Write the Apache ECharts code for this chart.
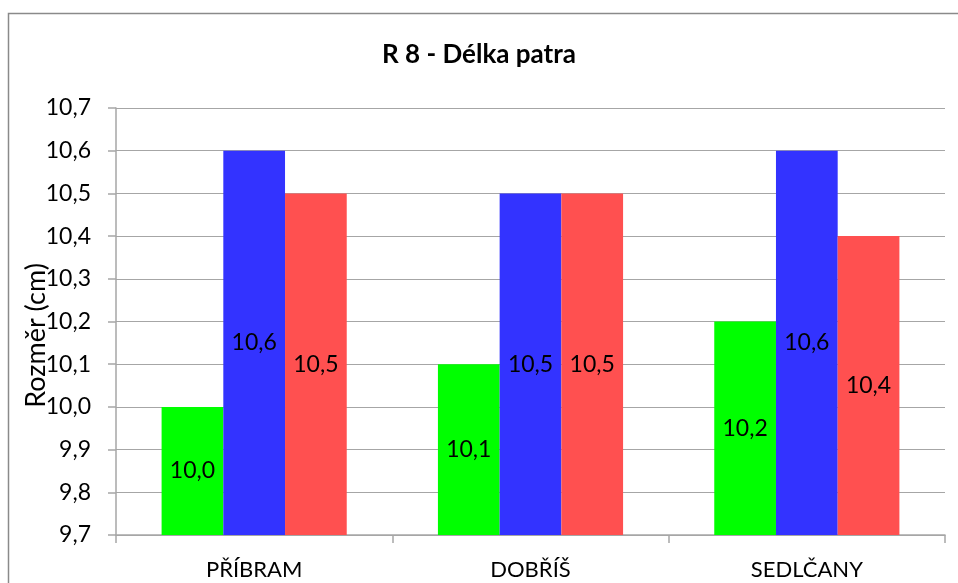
<!DOCTYPE html>
<html>
<head>
<meta charset="utf-8">
<script src="https://cdn.jsdelivr.net/npm/echarts@6/dist/echarts.min.js"></script>
<style>
  html, body { margin: 0; padding: 0; background: #fff; }
  #chart { width: 958px; height: 583px; }
</style>
</head>
<body>
<div id="chart"></div>
<script>
// Palate length (R 8) per town, three groups
const categories = ['PŘÍBRAM', 'DOBŘÍŠ', 'SEDLČANY'];
const seriesGreen = [10.0, 10.1, 10.2];
const seriesBlue = [10.6, 10.5, 10.6];
const seriesRed = [10.5, 10.5, 10.4];
const yMin = 9.7;
const yMax = 10.7;
const yStep = 0.1;

const FONT = 'Lato, "Open Sans", sans-serif';
const fmt = v => Number(v).toFixed(1).replace('.', ',');

function barSeries(data, color) {
  return {
    type: 'bar',
    data: data,
    barGap: '0%',
    barCategoryGap: '33%',
    itemStyle: { color: color },
    label: {
      show: true,
      position: 'inside',
      color: '#000',
      fontFamily: FONT,
      fontSize: 23,
      formatter: p => fmt(p.value)
    }
  };
}

const chart = echarts.init(document.getElementById('chart'), null, { renderer: 'canvas' });
chart.setOption({
  animation: false,
  backgroundColor: '#fff',
  title: {
    text: 'R 8 - Délka patra',
    left: 'center',
    top: 37,
    textStyle: { fontFamily: FONT, fontSize: 26, fontWeight: 'bold', color: '#000' }
  },
  graphic: [{
    type: 'rect',
    shape: { x: 8.5, y: 13.5, width: 970, height: 600 },
    style: { fill: 'none', stroke: '#8a8a8a', lineWidth: 1.5 },
    silent: true
  }],
  grid: { left: 116, right: 13, top: 108, bottom: 48, containLabel: false },
  xAxis: {
    type: 'category',
    data: categories,
    axisLine: { lineStyle: { color: '#a6a6a6', width: 1.5 } },
    axisTick: { show: true, length: 8, lineStyle: { color: '#a6a6a6', width: 1.5 } },
    axisLabel: { color: '#000', fontFamily: FONT, fontSize: 22, margin: 24 }
  },
  yAxis: {
    type: 'value',
    min: yMin,
    max: yMax,
    interval: yStep,
    name: 'Rozměr (cm)',
    nameLocation: 'middle',
    nameRotate: 90,
    nameGap: 66,
    nameMoveOverlap: false,
    nameTextStyle: { color: '#000', fontFamily: FONT, fontSize: 27, padding: [0, 28, 0, 0] },
    axisLine: { show: true, lineStyle: { color: '#a6a6a6', width: 1.5 } },
    axisTick: { show: true, length: 8, lineStyle: { color: '#a6a6a6', width: 1.5 } },
    splitLine: { show: true, lineStyle: { color: '#a6a6a6', width: 1.2 } },
    axisLabel: {
      color: '#000', fontFamily: FONT, fontSize: 23, margin: 25,
      formatter: v => fmt(v)
    }
  },
  series: [
    barSeries(seriesGreen, '#00ff00'),
    barSeries(seriesBlue, '#3333ff'),
    barSeries(seriesRed, '#ff5050')
  ]
});
</script>
</body>
</html>
